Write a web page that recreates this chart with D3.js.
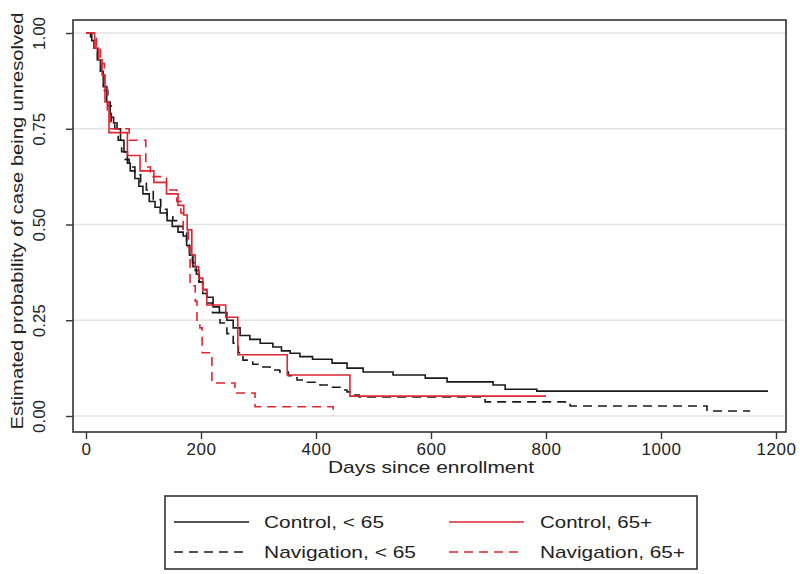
<!DOCTYPE html>
<html>
<head>
<meta charset="utf-8">
<script src="https://cdn.jsdelivr.net/npm/d3@7"></script>
<style>
  body { margin: 0; background: #fff; }
  svg { display: block; font-family: "Liberation Sans", Arial, sans-serif; }
</style>
</head>
<body>
<svg id="chart" width="800" height="574"></svg>
<script>
// ---------------- DATA ----------------
const xTicks = [0, 200, 400, 600, 800, 1000, 1200];
const yTicks = [0, 0.25, 0.5, 0.75, 1];
const yTickLabels = ["0.00", "0.25", "0.50", "0.75", "1.00"];
const seriesNames = ["Control, < 65", "Control, 65+", "Navigation, < 65", "Navigation, 65+"];

// Control, < 65 (step points: day, survival after step)
const ctrlYoungDays = [0, 5, 10, 15, 20, 25, 30, 36, 42, 48, 54, 60, 66, 72, 77, 85, 92, 99, 110, 120, 129, 141, 150, 160, 169, 175, 180, 186, 192, 197, 203, 210, 221, 232, 245, 256, 268, 285, 303, 325, 340, 355, 372, 394, 428, 454, 482, 534, 590, 628, 708, 729, 784, 1186];
const ctrlYoungSurv = [1, 1, 0.98, 0.96, 0.93, 0.90, 0.86, 0.82, 0.78, 0.765, 0.75, 0.72, 0.69, 0.66, 0.64, 0.62, 0.60, 0.58, 0.56, 0.545, 0.53, 0.51, 0.495, 0.48, 0.47, 0.445, 0.42, 0.39, 0.37, 0.35, 0.33, 0.31, 0.285, 0.27, 0.25, 0.23, 0.21, 0.20, 0.19, 0.18, 0.17, 0.164, 0.155, 0.148, 0.138, 0.125, 0.115, 0.107, 0.099, 0.089, 0.081, 0.07, 0.065, 0.065];

// Control, 65+
const ctrlOldDays = [0, 15, 22, 28, 33, 40, 72, 94, 118, 140, 160, 170, 176, 184, 190, 196, 203, 210, 243, 264, 350, 459, 800];
const ctrlOldSurv = [1, 0.96, 0.93, 0.89, 0.82, 0.74, 0.68, 0.64, 0.61, 0.58, 0.55, 0.525, 0.486, 0.42, 0.39, 0.36, 0.33, 0.29, 0.258, 0.16, 0.107, 0.052, 0.052];

// Navigation, < 65
const navYoungDays = [0, 8, 14, 20, 26, 32, 38, 44, 50, 56, 62, 68, 75, 85, 95, 105, 117, 130, 141, 151, 160, 169, 175, 180, 185, 190, 196, 203, 210, 220, 233, 245, 256, 265, 273, 290, 303, 320, 337, 352, 367, 385, 407, 425, 442, 454, 464, 475, 694, 842, 1080, 1155];
const navYoungSurv = [1, 0.99, 0.96, 0.93, 0.89, 0.85, 0.81, 0.77, 0.75, 0.72, 0.69, 0.67, 0.65, 0.63, 0.61, 0.59, 0.565, 0.54, 0.52, 0.51, 0.495, 0.48, 0.45, 0.42, 0.40, 0.38, 0.35, 0.32, 0.295, 0.27, 0.243, 0.215, 0.19, 0.165, 0.146, 0.135, 0.128, 0.12, 0.115, 0.105, 0.094, 0.088, 0.081, 0.075, 0.068, 0.063, 0.055, 0.05, 0.037, 0.026, 0.013, 0.013];

// Navigation, 65+
const navOldDays = [0, 18, 25, 32, 37, 42, 75, 104, 112, 140, 158, 165, 169, 178, 181, 190, 193, 198, 202, 219, 259, 294, 430];
const navOldSurv = [1, 0.96, 0.92, 0.86, 0.80, 0.75, 0.72, 0.65, 0.625, 0.59, 0.56, 0.53, 0.48, 0.44, 0.34, 0.30, 0.25, 0.23, 0.165, 0.086, 0.06, 0.024, 0];

// ---------------- LAYOUT ----------------
const svg = d3.select("#chart");
const frame = { left: 73, right: 786, top: 20, bottom: 432 };
const x = d3.scaleLinear().domain([0, 1200]).range([86, 776]);
const y = d3.scaleLinear().domain([0, 1]).range([416, 33]);

const red = "#dc2634";
const black = "#1a1a1a";
const styles = [
  { name: seriesNames[0], days: ctrlYoungDays, surv: ctrlYoungSurv, color: black, dash: null },
  { name: seriesNames[1], days: ctrlOldDays, surv: ctrlOldSurv, color: red, dash: null },
  { name: seriesNames[2], days: navYoungDays, surv: navYoungSurv, color: black, dash: "9,6" },
  { name: seriesNames[3], days: navOldDays, surv: navOldSurv, color: red, dash: "9,6" }
];

// gridlines
svg.append("g").selectAll("line").data(yTicks).join("line")
  .attr("x1", frame.left).attr("x2", frame.right)
  .attr("y1", d => y(d)).attr("y2", d => y(d))
  .attr("stroke", "#e3e3e3").attr("stroke-width", 1.5);

// curves
const line = d3.line().x(d => x(d[0])).y(d => y(d[1])).curve(d3.curveStepAfter);
const drawOrder = [0, 2, 3, 1];
drawOrder.forEach(i => {
  const s = styles[i];
  const pts = s.days.map((d, k) => [d, s.surv[k]]);
  svg.append("path").datum(pts)
    .attr("d", line)
    .attr("fill", "none")
    .attr("stroke", s.color)
    .attr("stroke-width", 1.6)
    .attr("stroke-dasharray", s.dash);
});

// frame
svg.append("rect")
  .attr("x", frame.left).attr("y", frame.top)
  .attr("width", frame.right - frame.left).attr("height", frame.bottom - frame.top)
  .attr("fill", "none").attr("stroke", "#333").attr("stroke-width", 1.6);

// x axis ticks and labels
const xAxis = d3.axisBottom(x).tickValues(xTicks).tickSize(7).tickPadding(4).tickFormat(d3.format("d"));
const gx = svg.append("g").attr("transform", `translate(0,${frame.bottom})`).call(xAxis);
gx.select(".domain").remove();
gx.selectAll(".tick line").attr("stroke", "#333").attr("stroke-width", 1.4);
gx.selectAll(".tick text").attr("font-size", 17).attr("fill", "#222")
  .attr("font-family", "'Liberation Sans', Arial, sans-serif").attr("letter-spacing", "0.6px");

// y axis ticks and labels (rotated labels)
const yAxis = d3.axisLeft(y).tickValues(yTicks).tickSize(7).tickFormat((d, i) => yTickLabels[i]);
const gy = svg.append("g").attr("transform", `translate(${frame.left},0)`).call(yAxis);
gy.select(".domain").remove();
gy.selectAll(".tick line").attr("stroke", "#333").attr("stroke-width", 1.4);
gy.selectAll(".tick text")
  .attr("font-size", 17).attr("fill", "#222")
  .attr("font-family", "'Liberation Sans', Arial, sans-serif")
  .attr("x", null).attr("dy", null)
  .attr("text-anchor", "middle")
  .attr("transform", "translate(-28,0) rotate(-90)");

// axis titles
svg.append("text")
  .attr("x", 431).attr("y", 473)
  .attr("text-anchor", "middle").attr("font-size", 17).attr("fill", "#222")
  .attr("textLength", 206).attr("lengthAdjust", "spacingAndGlyphs")
  .text("Days since enrollment");

svg.append("text")
  .attr("transform", "translate(23,221) rotate(-90)")
  .attr("text-anchor", "middle").attr("font-size", 17).attr("fill", "#222")
  .attr("textLength", 417).attr("lengthAdjust", "spacingAndGlyphs")
  .text("Estimated probability of case being unresolved");

// legend
const legend = svg.append("g");
legend.append("rect")
  .attr("x", 165).attr("y", 496).attr("width", 532).attr("height", 73)
  .attr("fill", "#fff").attr("stroke", "#333").attr("stroke-width", 1.6);
const legendPos = [
  { lx: 174, ty: 522, tx: 264, tl: 120 },
  { lx: 449, ty: 522, tx: 540, tl: 112 },
  { lx: 174, ty: 552, tx: 264, tl: 152 },
  { lx: 449, ty: 552, tx: 540, tl: 145 }
];
styles.forEach((s, i) => {
  const p = legendPos[i];
  legend.append("line")
    .attr("x1", p.lx).attr("x2", p.lx + 75)
    .attr("y1", p.ty).attr("y2", p.ty)
    .attr("stroke", s.color).attr("stroke-width", 1.6)
    .attr("stroke-dasharray", s.dash);
  legend.append("text")
    .attr("x", p.tx).attr("y", p.ty + 6)
    .attr("font-size", 17).attr("fill", "#222")
    .attr("textLength", p.tl).attr("lengthAdjust", "spacingAndGlyphs")
    .text(s.name);
});
</script>
</body>
</html>
